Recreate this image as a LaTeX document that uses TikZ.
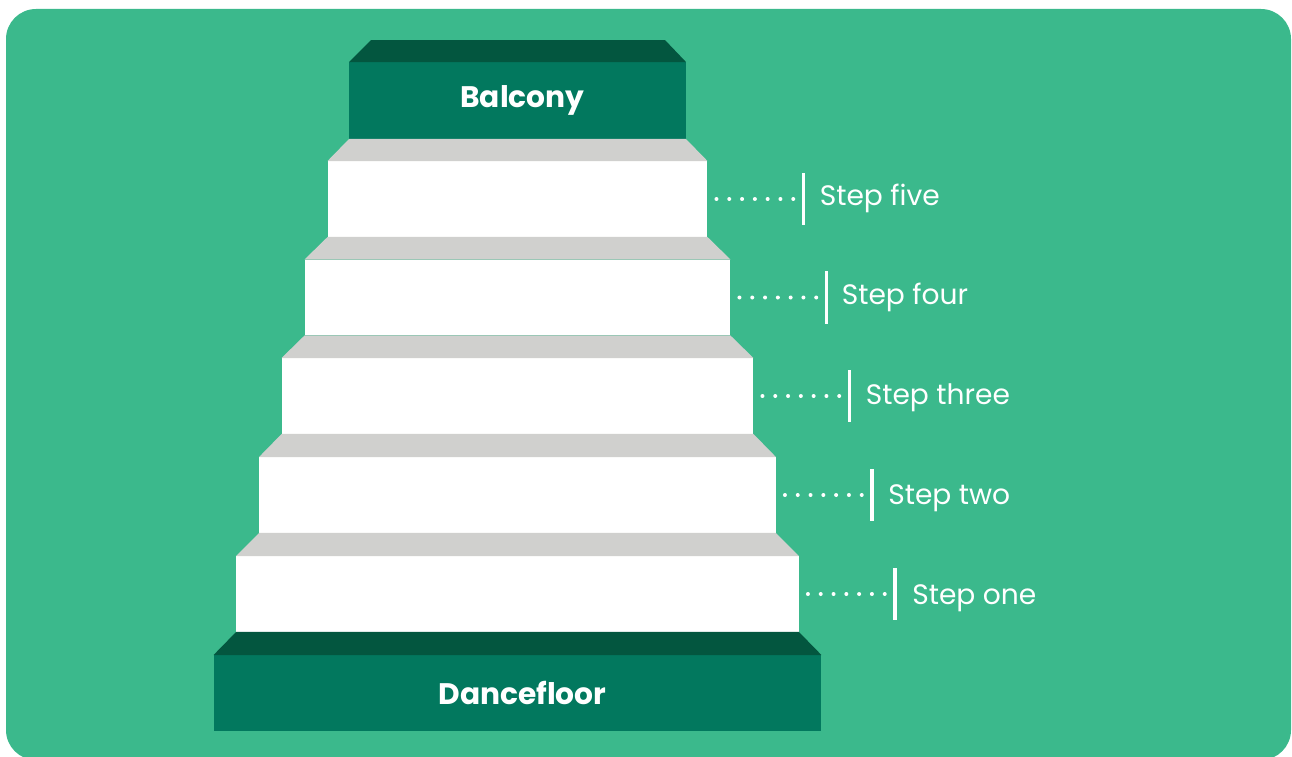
\documentclass[tikz,border=0pt]{standalone}
\usepackage{fontspec}
\setmainfont{Poppins}
\usepackage{tikz}
\usetikzlibrary{positioning,calc}
\definecolor{bggreen}{HTML}{3BB98C}
\definecolor{darkfront}{HTML}{02785E}
\definecolor{darktop}{HTML}{03563F}
\definecolor{treadgray}{HTML}{D0D0CE}
\tikzset{
landing/.style={rectangle,fill=darkfront,inner sep=0pt,outer sep=0pt,minimum height=1.52cm},
landingtext/.style={text=white,inner sep=0pt,xshift=0.1cm,font=\fontsize{16.9}{20}\selectfont\bfseries},
stairfront/.style={rectangle,fill=white,inner sep=0pt,outer sep=0pt,minimum height=1.52cm},
markbar/.style={rectangle,fill=white,inner sep=0pt,outer sep=0pt,minimum width=0.07cm,minimum height=1.06cm},
dotline/.style={white,line width=0.08cm,line cap=round,dash pattern=on 0pt off 0.256cm,shorten <=0.18cm,shorten >=0.165cm},
steplabel/.style={text=white,inner sep=0pt,font=\fontsize{16}{19}\selectfont}
}
\begin{document}
\begin{tikzpicture}[
x=0.02cm,
y=-0.02cm
]
\useasboundingbox (0,0) rectangle (1292,757);
\fill[bggreen,rounded corners=0.6cm] (6,9) rectangle (1291,760);
% landings and steps
\node[landing,minimum width=6.74cm,minimum height=1.54cm,label={[landingtext]center:Balcony}] (balcony) at (517.5,100.5) {};
\node[stairfront,minimum width=7.6cm] (stepfive) at (517.5,199) {};
\node[stairfront,minimum width=8.52cm] (stepfour) at (517.5,297.5) {};
\node[stairfront,minimum width=9.44cm] (stepthree) at (517.5,396) {};
\node[stairfront,minimum width=10.34cm] (steptwo) at (517.5,495) {};
\node[stairfront,minimum width=11.26cm] (stepone) at (517.5,594) {};
\node[landing,minimum width=12.16cm,label={[landingtext]center:Dancefloor}] (dancefloor) at (517.5,693) {};
% top faces
\fill[darktop] ($(balcony.north west)+(22,-22)$) -- ($(balcony.north east)+(-21,-22)$) -- (balcony.north east) -- (balcony.north west) -- cycle;
\fill[treadgray] (balcony.south west) -- (balcony.south east) -- (stepfive.north east) -- (stepfive.north west) -- cycle;
\fill[treadgray] (stepfive.south west) -- (stepfive.south east) -- (stepfour.north east) -- (stepfour.north west) -- cycle;
\fill[treadgray] (stepfour.south west) -- (stepfour.south east) -- (stepthree.north east) -- (stepthree.north west) -- cycle;
\fill[treadgray] (stepthree.south west) -- (stepthree.south east) -- (steptwo.north east) -- (steptwo.north west) -- cycle;
\fill[treadgray] (steptwo.south west) -- (steptwo.south east) -- (stepone.north east) -- (stepone.north west) -- cycle;
\fill[darktop] (stepone.south west) -- (stepone.south east) -- (dancefloor.north east) -- (dancefloor.north west) -- cycle;
% markers
\node[markbar,right=1.885cm of stepfive] (barfive) {};
\node[markbar,right=1.885cm of stepfour] (barfour) {};
\node[markbar,right=1.885cm of stepthree] (barthree) {};
\node[markbar,right=1.885cm of steptwo] (bartwo) {};
\node[markbar,right=1.885cm of stepone] (barone) {};
\draw[dotline] (stepfive.east) -- (barfive.west);
\draw[dotline] (stepfour.east) -- (barfour.west);
\draw[dotline] (stepthree.east) -- (barthree.west);
\draw[dotline] (steptwo.east) -- (bartwo.west);
\draw[dotline] (stepone.east) -- (barone.west);
% labels
\node[steplabel,anchor=base west] (lblfive) at ($(barfive.center)+(16,6)$) {Step five};
\node[steplabel,anchor=base west] (lblfour) at ($(barfour.center)+(15,7)$) {Step four};
\node[steplabel,anchor=base west] (lblthree) at ($(barthree.center)+(16,8.5)$) {Step three};
\node[steplabel,anchor=base west] (lbltwo) at ($(bartwo.center)+(16,9)$) {Step two};
\node[steplabel,anchor=base west] (lblone) at ($(barone.center)+(17,10)$) {Step one};
\end{tikzpicture}
\end{document}
